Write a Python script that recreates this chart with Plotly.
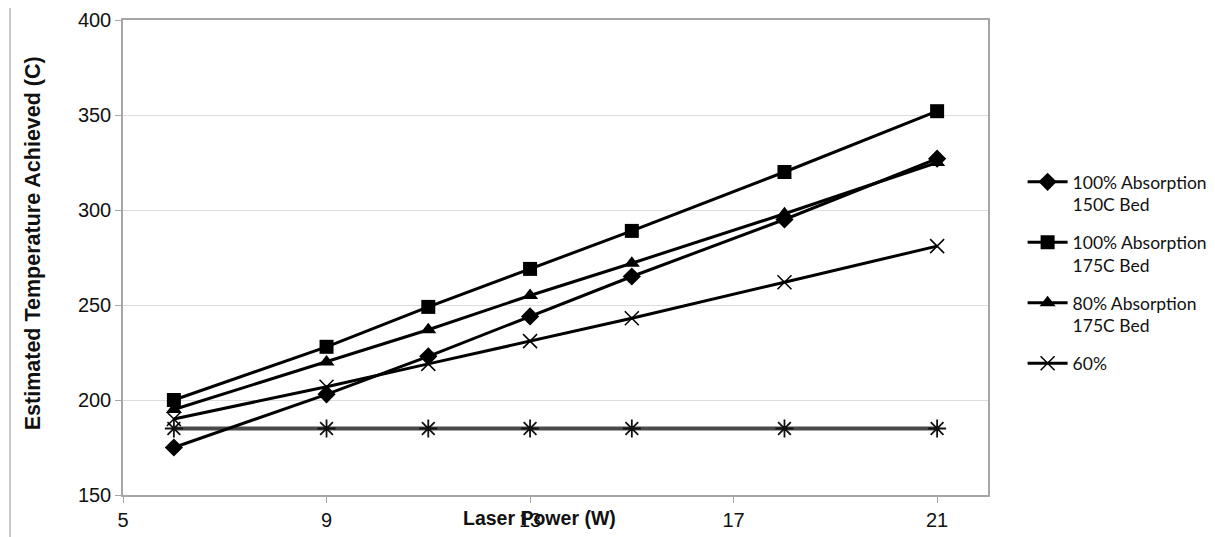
import plotly.graph_objects as go

laser_power = [6, 9, 11, 13, 15, 18, 21]
abs100_bed150 = [175, 203, 223, 244, 265, 295, 327]
abs100_bed175 = [200, 228, 249, 269, 289, 320, 352]
abs80_bed175 = [195, 220, 237, 255, 272, 298, 325]
abs60 = [190, 207, 219, 231, 243, 262, 281]
baseline = [185, 185, 185, 185, 185, 185, 185]

x_ticks = [5, 9, 13, 17, 21]
y_ticks = [150, 200, 250, 300, 350, 400]

fig = go.Figure()

fig.add_trace(go.Scatter(
    x=laser_power, y=baseline, mode="lines+markers", showlegend=False,
    line=dict(color="#4a4a4a", width=4),
    marker=dict(symbol="asterisk-open", size=15, color="#111111", line=dict(width=1.8, color="#111111")),
))
fig.add_trace(go.Scatter(
    x=laser_power, y=abs100_bed150, mode="lines+markers", name="100% Absorption<br>150C Bed", legendgroup="a",
    line=dict(color="black", width=3),
    marker=dict(symbol="diamond", size=14, color="black"),
))
fig.add_trace(go.Scatter(
    x=laser_power, y=abs100_bed175, mode="lines+markers", name="100% Absorption<br>175C Bed", legendgroup="b",
    line=dict(color="black", width=3),
    marker=dict(symbol="square", size=14, color="black"),
))
fig.add_trace(go.Scatter(
    x=laser_power, y=abs80_bed175, mode="lines+markers", name="80% Absorption<br>175C Bed", legendgroup="c",
    line=dict(color="black", width=3),
    marker=dict(symbol="triangle-up", size=14, color="black"),
))
fig.add_trace(go.Scatter(
    x=laser_power, y=abs60, mode="lines+markers", name="60%", legendgroup="d",
    line=dict(color="black", width=3),
    marker=dict(symbol="x-thin-open", size=14, color="black", line=dict(width=1.5, color="black")),
))

axis_common = dict(
    showline=True, linecolor="#a6a6a6", linewidth=1.5, mirror=True,
    ticks="outside", ticklen=6, tickcolor="#a6a6a6",
    tickfont=dict(family="Liberation Sans, Arial", size=20, color="#111111"),
    zeroline=False, automargin=False,
)

fig.update_xaxes(range=[5, 22], tickvals=x_ticks, showgrid=False, **axis_common)
fig.update_yaxes(range=[150, 400], tickvals=y_ticks, showgrid=True, gridcolor="#dcdcdc", gridwidth=1, **axis_common)

fig.update_layout(
    width=1215, height=537,
    margin=dict(l=115, r=235, t=12, b=50, autoexpand=False),
    paper_bgcolor="white", plot_bgcolor="white",
    legend=dict(
        x=1.040, y=0.697, xanchor="left", yanchor="top",
        traceorder="grouped", valign="top",
        font=dict(family="Lato", size=17.5, color="#111111"),
        tracegroupgap=12,
        itemwidth=40,
    ),
    annotations=[
        dict(text="Laser Power (W)", xref="paper", yref="paper", x=0.482, y=-0.048,
             xanchor="center", yanchor="middle", showarrow=False,
             font=dict(family="Liberation Sans, Arial", size=19.5, color="#111111", weight="bold")),
        dict(text="Estimated Temperature Achieved (C)", xref="paper", yref="paper", x=0, y=0.53,
             xshift=-90, xanchor="center", yanchor="middle", textangle=-90, showarrow=False,
             font=dict(family="Liberation Sans, Arial", size=21.5, color="#111111", weight="bold")),
    ],
    shapes=[
        dict(type="line", xref="paper", yref="paper", x0=-0.1306, x1=1.27, y0=1.0316, y1=1.0316,
             line=dict(color="#c8c8c8", width=2)),
        dict(type="line", xref="paper", yref="paper", x0=-0.1306, x1=-0.1306, y0=1.0316, y1=-0.1,
             line=dict(color="#c8c8c8", width=2)),
    ],
)

fig.write_html("out.html")
